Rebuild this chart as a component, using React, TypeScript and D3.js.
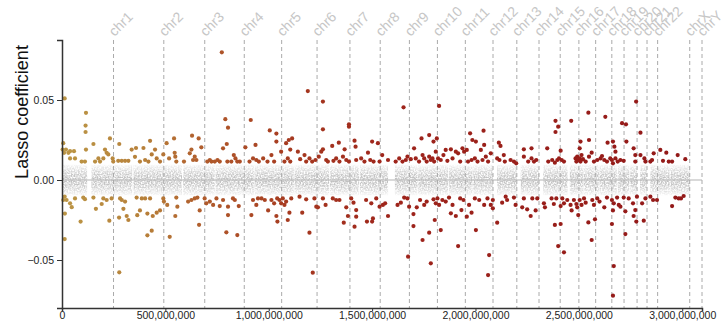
import React, { useEffect, useRef } from 'react';
import * as d3 from 'd3';

const CHROMS = ['chr1', 'chr2', 'chr3', 'chr4', 'chr5', 'chr6', 'chr7', 'chr8', 'chr9', 'chr10', 'chr11', 'chr12',
  'chr13', 'chr14', 'chr15', 'chr16', 'chr17', 'chr18', 'chr19', 'chr20', 'chr21', 'chr22', 'chrX', 'chrY'];

// chromosome lengths (Mb)
const CHROM_LEN_MB = [249.25, 243.2, 198.02, 191.15, 180.92, 171.12, 159.14, 146.36, 141.21, 135.53, 135.01, 133.85,
  115.17, 107.35, 102.53, 90.35, 81.2, 78.08, 59.13, 63.03, 48.13, 51.3, 155.27, 59.37];

// regions without probes (centromeres / short arms), Mb within chromosome
const GAPS_MB = [[121.5, 142.5], [90.5, 96], [87.9, 93.9], [48, 52.7], [46.4, 50], [58.8, 62.6], [58, 62], [43.1, 48],
  [38, 71], [39, 42.3], [51.6, 55.7], [34.8, 38.2], [0, 19.5], [0, 19.1], [0, 20.5], [35.3, 46.5], [22.2, 25.3],
  [15.4, 18.5], [24.4, 28.6], [25.6, 29.8], [0, 14.3], [0, 16.3], [58.6, 61.6], [0, 59.37]];

// selected probes: [genome position (Mb), lasso coefficient]
const HITS: [number, number][] = [
  [13, .051], [116, .042], [114, .034], [114, .030], [6, .023], [3, .019], [19, .019], [31, .017], [39, .018], [58, .018],
  [10, .017], [39, .0135], [63, .0135], [95, .0115], [111, .0115], [116, .019], [152, .0225], [160, .0115], [176, .0135],
  [184, .0115], [200, .0135], [208, .019], [216, .017], [224, .016], [232, .026], [245, .0135], [248, .0115], [277, .0225],
  [272, .012], [289, .012], [305, .012], [321, .012], [337, .019], [358, .020], [353, .0145], [377, .0115], [394, .020],
  [402, .0125], [418, .0115], [426, .0245], [434, .016], [450, .019], [458, .0135], [474, .0115], [490, .016], [506, .023],
  [13, -.0104], [6, -.0125], [22, -.0125], [39, -.0146], [47, -.017], [14, -.021], [13, -.0369], [63, -.0115], [90, -.026],
  [103, -.011], [111, -.012], [152, -.011], [164, -.018], [192, -.015], [200, -.0115], [216, -.0125], [229, -.0254],
  [240, -.0115], [276, -.0235], [281, -.0115], [289, -.0125], [297, -.018], [305, -.0135], [313, -.0225], [321, -.025],
  [277, -.0577], [361, -.011], [364, -.022], [377, -.019], [386, -.0115], [402, -.0115], [413, -.021], [413, -.0346],
  [426, -.0115], [434, -.0317], [439, -.0225], [458, -.0204], [474, -.019], [490, -.0115], [493, -.0135], [509, -.0156],
  [521, -.0355],
  [773, .0798], [542, .026], [545, .017], [548, .0146], [553, .0115], [518, .0135], [590, .0115], [618, .0167], [626, .019],
  [629, .0277], [634, .0125], [642, .0146], [650, .0125], [661, .026], [674, .0204], [703, .0115], [715, .0125],
  [723, .0115], [739, .0115], [752, .0125], [763, .0115], [779, .0198], [790, .038], [797, .0225], [803, .0327],
  [800, .0115], [819, .0115], [831, .0156], [839, .0135], [848, .0115], [860, .0115], [887, .0204], [913, .0375],
  [907, .0115], [924, .0135], [936, .0219], [940, .0125], [952, .0115], [973, .0135], [994, .0115], [1005, .031],
  [1013, .0156], [1026, .0115], [1037, .029], [1037, .024],
  [553, -.011], [558, -.0167], [548, -.0225], [610, -.0135], [626, -.0125], [642, -.0115], [655, -.011], [666, -.019],
  [663, -.028], [690, -.0115], [698, -.0146], [715, -.0135], [731, -.0156], [747, -.0115], [763, -.0163], [779, -.0125],
  [795, -.0327], [803, -.0167], [803, -.0219], [827, -.0115], [836, -.0125], [848, -.0344], [855, -.0163], [916, -.0219],
  [924, -.0125], [940, -.0156], [948, -.0115], [965, -.0115], [981, -.0125], [997, -.019], [1013, -.0125], [1026, -.0146],
  [1037, -.0225], [1042, -.026],
  [1189, .0556], [1262, .049], [1262, .0317], [1388, .0348], [1388, .0333], [1060, .0177], [1084, .023], [1097, .025],
  [1113, .026], [1104, .019], [1092, .0135], [1104, .0115], [1076, .0115], [1141, .0177], [1152, .013], [1173, .0156],
  [1181, .0115], [1197, .0135], [1210, .0115], [1226, .0125], [1242, .0146], [1254, .0177], [1262, .0192], [1278, .0125],
  [1286, .0115], [1307, .0213], [1313, .012], [1326, .0135], [1339, .0233], [1342, .0115], [1359, .0146], [1367, .0192],
  [1375, .0125], [1388, .0115], [1415, .0246], [1420, .0208], [1423, .0125], [1447, .0135], [1463, .0115], [1480, .0171],
  [1491, .0125], [1500, .024], [1507, .0115], [1528, .023], [1536, .0115], [1549, .0156],
  [1041, -.0115], [1052, -.0125], [1060, -.0146], [1068, -.0115], [1076, -.0156], [1084, -.0135], [1092, -.025],
  [1100, -.0204], [1109, -.0115], [1149, -.0104], [1162, -.0204], [1181, -.0121], [1197, -.0329], [1213, -.0579],
  [1221, -.0115], [1230, -.0167], [1238, -.0171], [1262, -.0115], [1275, -.0156], [1310, -.0115], [1326, -.0125],
  [1342, -.0125], [1363, -.0267], [1375, -.0171], [1383, -.0225], [1399, -.0115], [1410, -.0142], [1415, -.0292],
  [1423, -.0229], [1423, -.0188], [1471, -.0125], [1475, -.026], [1496, -.0146], [1500, -.026], [1504, -.024],
  [1520, -.0115], [1536, -.0167], [1552, -.0156],
  [1652, .0454], [1824, .0463], [1577, .0125], [1614, .0115], [1631, .0135], [1647, .0115], [1663, .0125], [1671, .0146],
  [1687, .013], [1703, .0198], [1711, .0135], [1727, .0115], [1739, .026], [1744, .0156], [1752, .0135], [1764, .0115],
  [1776, .0281], [1776, .0146], [1784, .0125], [1792, .0135], [1797, .024], [1800, .0115], [1808, .0177], [1813, .026],
  [1819, .0135], [1832, .0125], [1845, .0156], [1856, .0188], [1864, .012], [1881, .0192], [1889, .0135], [1905, .0177],
  [1916, .0167], [1926, .0115], [1937, .0198], [1945, .0177], [1958, .0188], [1964, .0115], [1974, .0292], [1981, .0125],
  [1985, .025], [1997, .0135], [2002, .024], [2010, .0115], [2026, .0188], [2034, .0125], [2039, .0308], [2042, .0219],
  [2050, .0146], [2061, .0115], [2074, .0167],
  [1563, -.0146], [1577, -.0225], [1623, -.0156], [1639, -.0142], [1655, -.011], [1671, -.0115], [1679, -.0167],
  [1674, -.0479], [1700, -.0213], [1700, -.0288], [1716, -.0171], [1732, -.0125], [1744, -.0375], [1752, -.0156],
  [1764, -.0135], [1776, -.0329], [1784, -.0521], [1797, -.0121], [1803, -.025], [1808, -.0146], [1816, -.0115],
  [1824, -.0156], [1832, -.0313], [1840, -.0125], [1856, -.0135], [1872, -.011], [1881, -.0208], [1889, -.0156],
  [1905, -.0225], [1916, -.0413], [1926, -.0115], [1932, -.0188], [1942, -.0125], [1958, -.0229], [1969, -.0156],
  [1981, -.0204], [1997, -.0115], [2002, -.0313], [2018, -.0125], [2042, -.0156], [2058, -.0115], [2066, -.0469],
  [2061, -.0594], [2074, -.0156],
  [2546, .0421], [2387, .037], [2400, .0333], [2387, .030], [2463, .037], [2113, .0233], [2121, .0213], [2105, .0135],
  [2116, .0125], [2137, .0156], [2142, .0115], [2170, .0125], [2186, .0115], [2197, .0104], [2234, .0192], [2234, .0146],
  [2255, .0115], [2271, .0198], [2271, .0135], [2283, .0115], [2294, .0125], [2347, .0198], [2352, .0115], [2371, .0125],
  [2384, .0108], [2396, .0125], [2404, .0135], [2412, .0183], [2417, .0125], [2428, .0115], [2484, .0135], [2488, .0115],
  [2492, .0146], [2497, .0125], [2504, .0135], [2508, .0115], [2504, .0198], [2508, .024], [2513, .0156], [2520, .013],
  [2533, .0115], [2549, .025], [2549, .0146], [2562, .0171], [2573, .0115], [2589, .0125], [2605, .0135],
  [2084, -.0125], [2084, -.0177], [2105, -.0267], [2129, -.0142], [2146, -.0104], [2153, -.0125], [2186, -.011],
  [2194, -.0156], [2226, -.0171], [2234, -.0115], [2250, -.0183], [2267, -.0225], [2275, -.0115], [2291, -.019],
  [2299, -.0115], [2331, -.0146], [2336, -.0171], [2368, -.0115], [2379, -.015], [2384, -.0281], [2391, -.0115],
  [2400, -.0413], [2412, -.0163], [2412, -.0275], [2420, -.0115], [2428, -.0452], [2428, -.0146], [2444, -.0125],
  [2460, -.0156], [2465, -.019], [2476, -.0125], [2488, -.015], [2492, -.0171], [2497, -.0219], [2504, -.0125],
  [2513, -.0156], [2525, -.0115], [2533, -.0142], [2546, -.0265], [2562, -.0375], [2565, -.0125], [2573, -.0156],
  [2578, -.0246], [2589, -.0115], [2600, -.0135],
  [2628, .0395], [2709, .0355], [2728, .0348], [2777, .049], [2798, .0296], [2639, .0233], [2665, .024], [2672, .0208],
  [2677, .0177], [2730, .024], [2612, .015], [2623, .0125], [2636, .0115], [2652, .0135], [2660, .0125], [2665, .0104],
  [2677, .0135], [2688, .0115], [2701, .0125], [2717, .012], [2765, .0198], [2773, .0156], [2773, .0115], [2798, .0156],
  [2817, .0135], [2822, .0115], [2846, .0115], [2854, .0125], [2862, .0167], [2894, .0188], [2907, .012], [2923, .0171],
  [2935, .0115], [2951, .0115], [2978, .0156], [3015, .013],
  [2623, -.0171], [2636, -.011], [2660, -.0125], [2669, -.0146], [2665, -.019], [2660, -.0275], [2669, -.0538],
  [2665, -.0723], [2685, -.011], [2693, -.0156], [2701, -.0167], [2717, -.011], [2725, -.0196], [2725, -.0338],
  [2741, -.0115], [2762, -.0146], [2765, -.0225], [2773, -.0188], [2778, -.026], [2781, -.0104], [2806, -.0146],
  [2814, -.0254], [2822, -.0115], [2846, -.0104], [2859, -.0125], [2878, -.0125], [2951, -.0163], [2967, -.011],
  [2983, -.0115], [2994, -.0115], [3007, -.01],
];

const X_TICKS = [0, 500e6, 1000e6, 1500e6, 2000e6, 2500e6, 3000e6];
const Y_TICKS = [-0.05, 0, 0.05];

const App = () => {
  const svgRef = useRef<SVGSVGElement>(null);

  useEffect(() => {
    const svg = d3.select(svgRef.current);
    svg.selectAll('*').remove();

    const font = '"Liberation Sans", Arial, Helvetica, sans-serif';
    const left = 62, right = 702, top = 40, bottom = 308;

    // cumulative chromosome offsets (bp)
    const starts: number[] = [];
    let acc = 0;
    CHROM_LEN_MB.forEach(len => { starts.push(acc); acc += len * 1e6; });
    const total = acc;

    const x = d3.scaleLinear().domain([0, total]).range([left, right]);
    const y = d3.scaleLinear().domain([-0.08, 0.0875]).range([bottom, top]);
    const color = d3.scaleLinear<string>()
      .domain([0, 400e6, 700e6, 1100e6, 1600e6, 3100e6])
      .range(['#bb9646', '#b7803a', '#b05a2b', '#a63a20', '#9e241b', '#921818'])
      .clamp(true);

    const defs = svg.append('defs');
    const grad = defs.append('linearGradient')
      .attr('id', 'band').attr('x1', 0).attr('x2', 0).attr('y1', 0).attr('y2', 1);
    [[0, 0.15], [0.15, 0.5], [0.35, 0.9], [0.5, 1], [0.65, 0.9], [0.85, 0.5], [1, 0.15]].forEach(([o, a]) => {
      grad.append('stop').attr('offset', o).attr('stop-color', '#bfbfbf').attr('stop-opacity', a);
    });
    // grainy texture so the band reads as many tiny points
    const grain = defs.append('filter').attr('id', 'grain')
      .attr('x', 0).attr('y', 0).attr('width', 1).attr('height', 1);
    grain.append('feTurbulence').attr('type', 'fractalNoise').attr('baseFrequency', 0.7)
      .attr('numOctaves', 1).attr('seed', 3).attr('result', 'noise');
    grain.append('feColorMatrix').attr('in', 'noise').attr('type', 'matrix')
      .attr('values', '0 0 0 0 0  0 0 0 0 0  0 0 0 0 0  0 0 0 2.6 -0.75').attr('result', 'mask');
    grain.append('feComposite').attr('in', 'SourceGraphic').attr('in2', 'mask').attr('operator', 'in');

    // zero line
    svg.append('line')
      .attr('x1', left).attr('x2', right).attr('y1', y(0)).attr('y2', y(0))
      .style('stroke', '#cccccc').style('stroke-width', 1.5);

    // non-selected probes: dense band near zero
    const bandG = svg.append('g').attr('filter', 'url(#grain)');
    CHROMS.forEach((c, i) => {
      const [g0, g1] = GAPS_MB[i];
      const segs = [[0, g0], [g1, CHROM_LEN_MB[i]]].filter(s => s[1] - s[0] > 0.5);
      segs.forEach(([s, e]) => {
        bandG.append('rect')
          .attr('x', x(starts[i] + s * 1e6))
          .attr('width', x(starts[i] + e * 1e6) - x(starts[i] + s * 1e6))
          .attr('y', y(0.0095))
          .attr('height', y(-0.0095) - y(0.0095))
          .style('fill', 'url(#band)');
      });
    });

    // chromosome boundaries and labels
    CHROMS.forEach((c, i) => {
      const xe = x(starts[i] + CHROM_LEN_MB[i] * 1e6);
      svg.append('line')
        .attr('x1', xe).attr('x2', xe).attr('y1', top).attr('y2', bottom)
        .style('stroke', '#aaaaaa').style('stroke-width', 1).style('stroke-dasharray', '4,3');
      svg.append('text')
        .attr('transform', `translate(${xe + 1}, ${top - 3}) rotate(-45)`)
        .text(c)
        .style('font-family', font).style('font-size', '14px').style('fill', '#c6c6c6');
    });

    // selected probes
    svg.append('g').selectAll('circle')
      .data(HITS)
      .enter()
      .append('circle')
      .attr('cx', d => x(d[0] * 1e6))
      .attr('cy', d => y(d[1]))
      .attr('r', 2.1)
      .style('fill', d => color(d[0] * 1e6));

    // axes
    const xAxis = svg.append('g')
      .attr('transform', `translate(0, ${bottom})`)
      .call(d3.axisBottom(x).tickValues(X_TICKS).tickFormat(d3.format(',')).tickSize(3).tickPadding(1));
    const yAxis = svg.append('g')
      .attr('transform', `translate(${left}, 0)`)
      .call(d3.axisLeft(y).tickValues(Y_TICKS).tickFormat(d3.format('.2f')).tickSize(5));
    [xAxis, yAxis].forEach(ax => {
      ax.select('.domain').style('stroke', '#333').style('stroke-width', 1.5);
      ax.selectAll('.tick line').style('stroke', '#333');
      ax.selectAll('text').style('font-family', font).style('font-size', '10.5px').style('fill', '#222');
    });

    svg.append('text')
      .attr('transform', `translate(28, 112) rotate(-90)`)
      .attr('text-anchor', 'middle')
      .text('Lasso coefficient')
      .style('font-family', font).style('font-size', '18px').style('fill', '#111');
  }, []);

  return (
    <svg ref={svgRef} width={726} height={322}
      style={{ position: 'absolute', left: 0, top: 0, background: '#fff' }} />
  );
};

export default App;
